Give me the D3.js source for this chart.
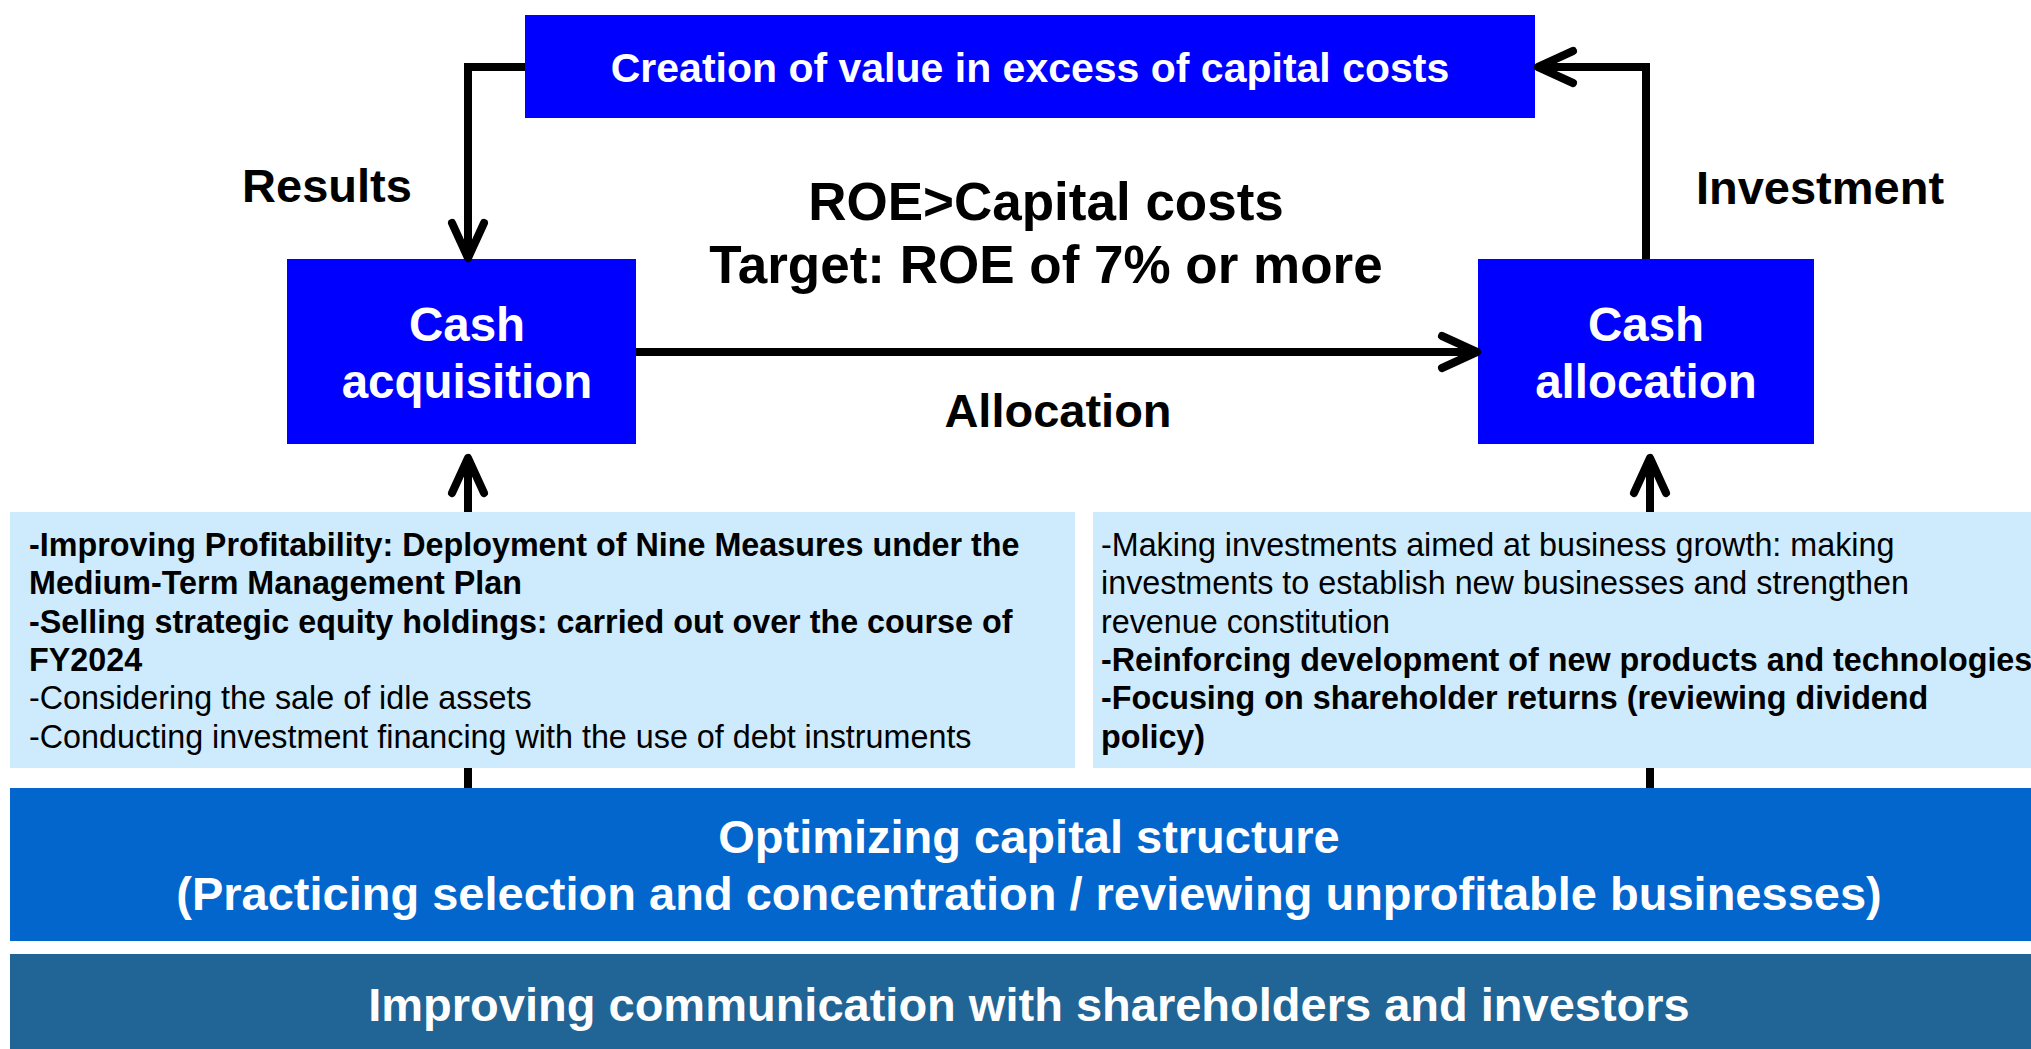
<!DOCTYPE html>
<html>
<head>
<meta charset="utf-8">
<script src="https://cdn.jsdelivr.net/npm/d3@7"></script>
<style>
  body { margin: 0; background: #fff; }
  svg { display: block; font-family: "Liberation Sans", Arial, sans-serif; }
</style>
</head>
<body>
<svg id="diagram" width="2031" height="1049"></svg>
<script>
// diagram content
const topLabel = "Creation of value in excess of capital costs";
const cashBoxes = [["Cash", "acquisition"], ["Cash", "allocation"]];
const flowLabels = ["Results", "Investment", "Allocation"];
const centerLines = ["ROE>Capital costs", "Target: ROE of 7% or more"];

const leftLines = [
    "-Improving Profitability: Deployment of Nine Measures under the",
    "Medium-Term Management Plan",
    "-Selling strategic equity holdings: carried out over the course of",
    "FY2024",
    "-Considering the sale of idle assets",
    "-Conducting investment financing with the use of debt instruments"
];
const leftBold = [true, true, true, true, false, false];

const rightLines = [
    "-Making investments aimed at business growth: making",
    "investments to establish new businesses and strengthen",
    "revenue constitution",
    "-Reinforcing development of new products and technologies",
    "-Focusing on shareholder returns (reviewing dividend",
    "policy)"
];
const rightBold = [false, false, false, true, true, true];

const bandLines = [
    ["Optimizing capital structure", "(Practicing selection and concentration / reviewing unprofitable businesses)"],
    ["Improving communication with shareholders and investors"]
];

const svg = d3.select("#diagram");

const blue = "#0000ff";
const lightBlue = "#cdebfd";
const bandColors = ["#0366cc", "#216496"];

// chevron arrow head: tip point + direction
const chevron = function(x, y, dx, dy) {
    const along = 35, perp = 16;
    const bx = x - dx * along, by = y - dy * along;
    return "M" + (bx - dy * perp) + "," + (by + dx * perp) +
           "L" + x + "," + y +
           "L" + (bx + dy * perp) + "," + (by - dx * perp);
};

const lineStyle = function(sel) {
    sel.attr("fill", "none")
       .attr("stroke", "#000")
       .attr("stroke-width", 8);
};

// vertical feeder lines (behind the light boxes)
const feeders = [{x: 468}, {x: 1650}];
svg.append("g").selectAll("path")
    .data(feeders)
    .enter()
    .append("path")
    .attr("d", d => "M" + d.x + ",790V462")
    .call(lineStyle);

svg.append("g").selectAll("path")
    .data(feeders)
    .enter()
    .append("path")
    .attr("d", d => chevron(d.x, 458, 0, -1))
    .call(lineStyle)
    .attr("stroke-linecap", "round")
    .attr("stroke-linejoin", "round");

// top box
svg.append("rect")
    .attr("x", 525).attr("y", 15)
    .attr("width", 1010).attr("height", 103)
    .attr("fill", blue);

svg.append("text")
    .attr("x", 1030).attr("y", 82)
    .attr("text-anchor", "middle")
    .attr("fill", "#fff")
    .attr("font-weight", "bold")
    .attr("font-size", 41)
    .text(topLabel);

// cash boxes
const cashX = [287, 1478];
const cashW = [349, 336];
const cashTextX = [180, 168];
const cashG = svg.append("g").selectAll("g")
    .data(cashBoxes)
    .enter()
    .append("g")
    .attr("transform", (d, i) => "translate(" + cashX[i] + ",259)");

cashG.append("rect")
    .attr("width", (d, i) => cashW[i]).attr("height", 185)
    .attr("fill", blue);

cashG.each(function(d, j) {
    d3.select(this).selectAll("text")
        .data(d)
        .enter()
        .append("text")
        .attr("x", cashTextX[j])
        .attr("y", (t, i) => 82 + i * 57)
        .attr("text-anchor", "middle")
        .attr("fill", "#fff")
        .attr("font-weight", "bold")
        .attr("font-size", 47.5)
        .text(t => t);
});

// connector arrows
svg.append("path").attr("d", "M525,67H468V254").call(lineStyle);
svg.append("path").attr("d", "M1646,259V67H1542").call(lineStyle);
svg.append("path").attr("d", "M636,352H1473").call(lineStyle);

const heads = [[468, 258, 0, 1], [1538, 67, -1, 0], [1477, 352, 1, 0]];
svg.append("g").selectAll("path")
    .data(heads)
    .enter()
    .append("path")
    .attr("d", d => chevron(d[0], d[1], d[2], d[3]))
    .call(lineStyle)
    .attr("stroke-linecap", "round")
    .attr("stroke-linejoin", "round");

// flow labels
const flowPos = [[327, 202], [1820, 204], [1058, 427]];
svg.append("g").selectAll("text")
    .data(flowLabels)
    .enter()
    .append("text")
    .attr("x", (d, i) => flowPos[i][0])
    .attr("y", (d, i) => flowPos[i][1])
    .attr("text-anchor", "middle")
    .attr("font-weight", "bold")
    .attr("font-size", 47)
    .text(d => d);

svg.append("g").selectAll("text")
    .data(centerLines)
    .enter()
    .append("text")
    .attr("x", 1046)
    .attr("y", (d, i) => 220 + i * 63)
    .attr("text-anchor", "middle")
    .attr("font-weight", "bold")
    .attr("font-size", 53)
    .text(d => d);

// light boxes with bullet text
const panels = [
    {x: 10, w: 1065, tx: 19, lines: leftLines, bold: leftBold},
    {x: 1093, w: 940, tx: 8, lines: rightLines, bold: rightBold}
];

const panelG = svg.append("g").selectAll("g")
    .data(panels)
    .enter()
    .append("g")
    .attr("transform", d => "translate(" + d.x + ",512)");

panelG.append("rect")
    .attr("width", d => d.w)
    .attr("height", 256)
    .attr("fill", lightBlue);

panelG.selectAll("text")
    .data(d => d.lines.map((t, i) => ({t: t, b: d.bold[i], tx: d.tx})))
    .enter()
    .append("text")
    .attr("x", d => d.tx)
    .attr("y", (d, i) => 44 + i * 38.3)
    .attr("font-size", 32.3)
    .attr("font-weight", d => d.b ? "bold" : "normal")
    .attr("fill", "#000")
    .text(d => d.t);

// bottom bands
const bandY = [788, 954];
const bandH = [153, 95];
const bandG = svg.append("g").selectAll("g")
    .data(bandLines)
    .enter()
    .append("g")
    .attr("transform", (d, i) => "translate(10," + bandY[i] + ")");

bandG.append("rect")
    .attr("width", 2021)
    .attr("height", (d, i) => bandH[i])
    .attr("fill", (d, i) => bandColors[i]);

bandG.selectAll("text")
    .data(d => d)
    .enter()
    .append("text")
    .attr("x", 1019)
    .attr("y", function(d, i) {
        const n = d3.select(this.parentNode).datum().length;
        return n > 1 ? 65 + i * 57 : 67;
    })
    .attr("text-anchor", "middle")
    .attr("fill", "#fff")
    .attr("font-weight", "bold")
    .attr("font-size", 47)
    .text(d => d);
</script>
</body>
</html>
